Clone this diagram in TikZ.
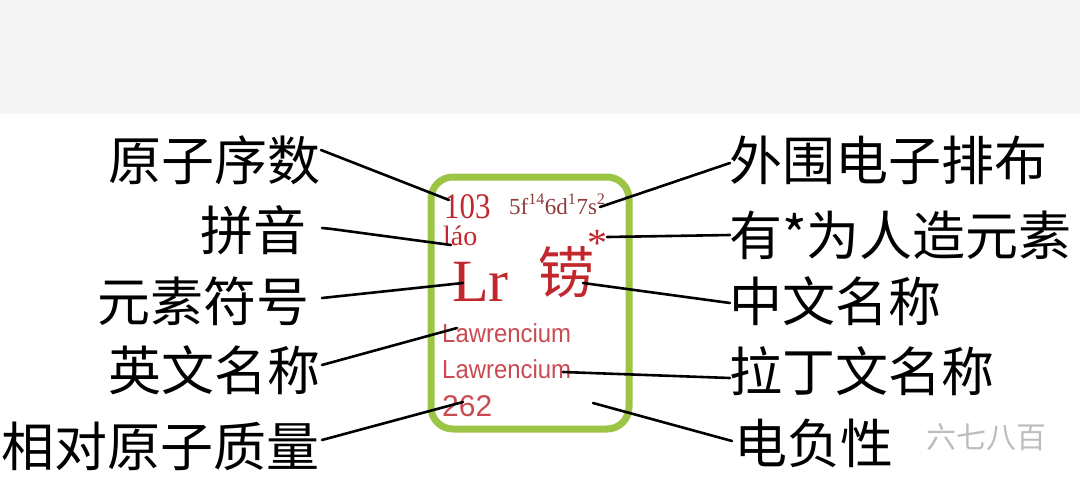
\documentclass[tikz,border=0pt]{standalone}
\usepackage{fontspec}
\setmainfont{Liberation Serif}
\newfontfamily\cjk{Noto Sans CJK SC}
\newfontfamily\arialf{Liberation Sans}
\definecolor{boxgreen}{HTML}{9CC445}
\definecolor{elred}{HTML}{C1272D}
\definecolor{elredlight}{HTML}{C94A52}
\definecolor{elbrown}{HTML}{8E3A3A}
\definecolor{bandgray}{HTML}{F5F5F5}
\definecolor{wmgray}{HTML}{BDBDBD}
\tikzset{
  lbl/.style={font=\cjk\fontsize{53}{60}\selectfont, inner sep=0pt, text=black},
  conn/.style={draw=black, line width=2.6pt, line cap=round},
  eltxt/.style={inner sep=0pt, text=elred},
}
\begin{document}
\begin{tikzpicture}[x=1pt,y=-1pt]
\useasboundingbox (0,0) rectangle (1080,480);
\fill[bandgray] (0,0) rectangle (1080,114);
% watermark
\node[font=\cjk\fontsize{30}{34}\selectfont, text=wmgray, inner sep=0pt] (wm) at (986,437) {六七八百};
% element box
\draw[line width=7pt, draw=boxgreen, rounded corners=22pt] (431,177) rectangle (629,429);
% element texts
\node[eltxt, font=\fontsize{36}{40}\selectfont, anchor=base west] (num) at (444,218) {\scalebox{0.86}[1]{103}};
\node[eltxt, text=elbrown, font=\fontsize{23}{26}\selectfont, anchor=base west] (conf) at (509,214) {5f\textsuperscript{14}6d\textsuperscript{1}7s\textsuperscript{2}};
\node[eltxt, font=\fontsize{28}{32}\selectfont, anchor=base west] (py) at (443,245) {láo};
\node[eltxt, font=\fontsize{60}{66}\selectfont, anchor=base west] (sym) at (452,301) {Lr};
\node[eltxt, font=\cjk\fontsize{56}{60}\selectfont, anchor=base west] (cn) at (538,293) {铹};
\node[eltxt, font=\fontsize{40}{44}\selectfont, anchor=base west] (star) at (587,256) {*};
\node[eltxt, text=elredlight, font=\arialf\fontsize{26}{30}\selectfont, anchor=base west] (en) at (442,342) {\scalebox{0.92}[1]{Lawrencium}};
\node[eltxt, text=elredlight, font=\arialf\fontsize{26}{30}\selectfont, anchor=base west] (la) at (442,378) {\scalebox{0.92}[1]{Lawrencium}};
\node[eltxt, text=elredlight, font=\arialf\fontsize{30}{34}\selectfont, anchor=base west] (mass) at (442,416) {262};
% connector end points inside the box
\coordinate (pNum) at (449,200);
\coordinate (pPy) at (451,245);
\coordinate (pSym) at (463,283);
\coordinate (pEn) at (457,328);
\coordinate (pMass) at (463,402);
\coordinate (pConf) at (600,207);
\coordinate (pStar) at (607,237);
\coordinate (pCn) at (583,283);
\coordinate (pLa) at (563,372);
\coordinate (pEneg) at (593,403);
% left labels
\node[lbl, anchor=east] (lNum) at (321,160) {原子序数};
\node[lbl, anchor=east] (lPy) at (307,230) {拼音};
\node[lbl, anchor=east] (lSym) at (310,301) {元素符号};
\node[lbl, anchor=east] (lEn) at (321,370) {英文名称};
\node[lbl, anchor=east] (lMass) at (320,446) {相对原子质量};
% right labels
\node[lbl, anchor=west] (rConf) at (729,160) {外围电子排布};
\node[lbl, anchor=west] (rStar) at (729,235) {有*为人造元素};
\node[lbl, anchor=west] (rCn) at (729,301) {中文名称};
\node[lbl, anchor=west] (rLa) at (729,371) {拉丁文名称};
\node[lbl, anchor=west] (rEneg) at (734,443) {电负性};
% connectors
\draw[conn] (lNum.east |- 0,150) -- (pNum);
\draw[conn] (322,228) -- (332,229) -- (pPy);
\draw[conn] (322,298) -- (pSym);
\draw[conn] (322,365) -- (pEn);
\draw[conn] (322,440) -- (pMass);
\draw[conn] (pConf) -- (730,163);
\draw[conn] (pStar) -- (730,235);
\draw[conn] (pCn) -- (730,303);
\draw[conn] (pLa) -- (730,378);
\draw[conn] (pEneg) -- (732,441);
\end{tikzpicture}
\end{document}
